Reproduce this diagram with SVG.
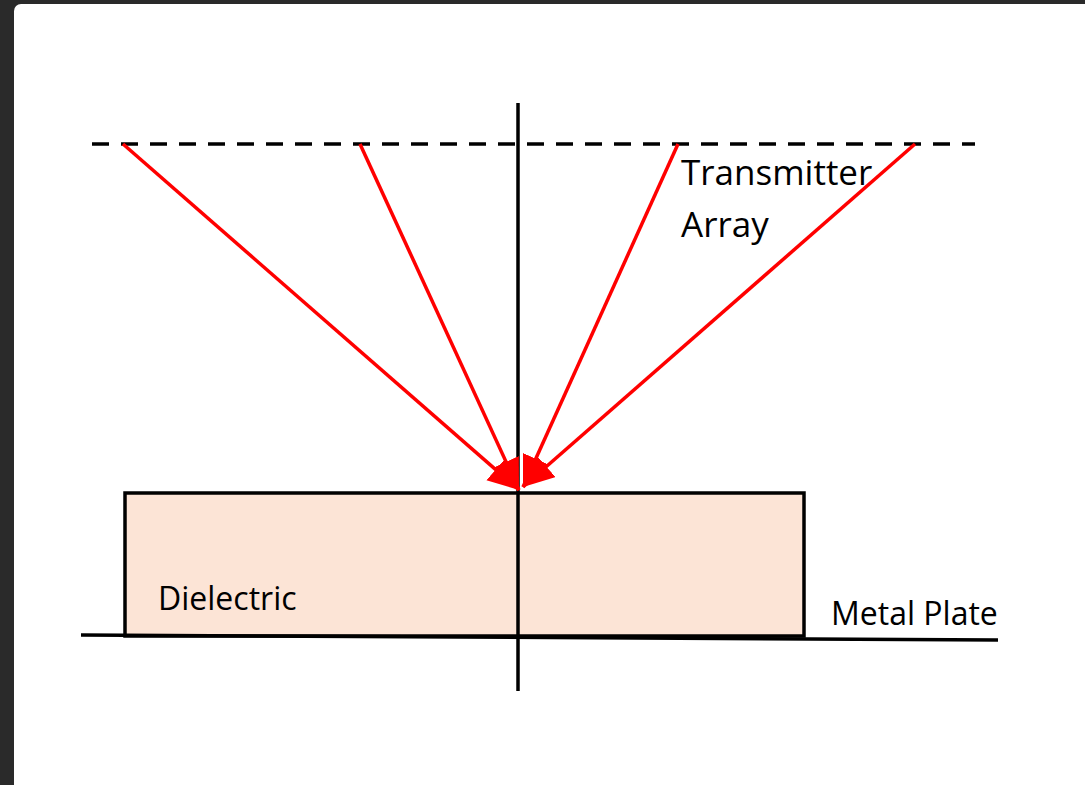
<svg xmlns="http://www.w3.org/2000/svg" width="1085" height="785" viewBox="0 0 1085 785">
  <style>
    .blk { stroke: #000; stroke-width: 3.5; fill: none; }
    .ray { stroke: #ff0000; stroke-width: 3.5; fill: none; marker-end: url(#arr); }
    .lbl { font-family: "Open Sans", "Liberation Sans", sans-serif; fill: #000; }
  </style>
  <defs>
    <marker id="arr" markerUnits="userSpaceOnUse" markerWidth="34" markerHeight="30" refX="31" refY="14" orient="auto">
      <path d="M0,0 L31,14 L0,28 z" fill="#ff0000"/>
    </marker>
  </defs>
  <rect x="0" y="0" width="1085" height="785" fill="#2a2a2a"/>
  <rect x="14" y="4" width="1078" height="800" rx="7" fill="#ffffff"/>

  <g id="dielectric">
    <rect x="125" y="493" width="679" height="143" fill="#fce4d6" stroke="#000" stroke-width="3.5"/>
    <text class="lbl" x="158" y="610" font-size="32">Dielectric</text>
  </g>
  <g id="metal-plate">
    <line class="blk" x1="81" y1="635" x2="998" y2="640"/>
    <text class="lbl" x="831" y="625" font-size="32">Metal Plate</text>
  </g>
  <g id="transmitter-array">
    <line class="blk" x1="92" y1="144" x2="975" y2="144" stroke-dasharray="17 12"/>
    <text class="lbl" x="681" y="185" font-size="35">Transmitter</text>
    <text class="lbl" x="681" y="237" font-size="35">Array</text>
  </g>
  <g id="axis">
    <line class="blk" x1="518" y1="103" x2="518" y2="691"/>
  </g>
  <g id="connectors">
    <line class="ray" x1="123" y1="144" x2="519" y2="490"/>
    <line class="ray" x1="360" y1="144" x2="519" y2="490"/>
    <line class="ray" x1="678" y1="144" x2="523" y2="487"/>
    <line class="ray" x1="915" y1="144" x2="523" y2="487"/>
  </g>
</svg>
